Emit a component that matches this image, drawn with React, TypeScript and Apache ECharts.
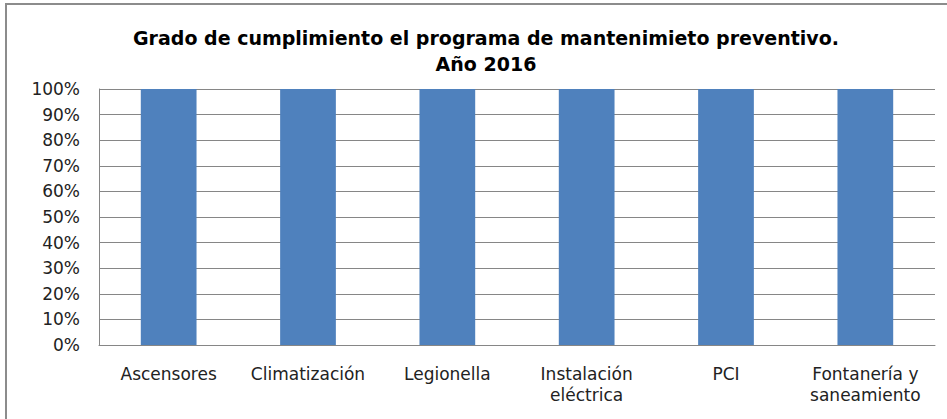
import React, { useEffect, useRef } from "react";
import * as echarts from "echarts";

const categories = [
  "Ascensores",
  "Climatización",
  "Legionella",
  "Instalación\neléctrica",
  "PCI",
  "Fontanería y\nsaneamiento",
];
const values = [1, 1, 1, 1, 1, 1];
const titleLines = [
  "Grado de cumplimiento el programa de mantenimieto preventivo.",
  "Año 2016",
];

const FONT = "DejaVu Sans";

export default function App() {
  const ref = useRef<HTMLDivElement>(null);
  useEffect(() => {
    const chart = echarts.init(ref.current!, null, { renderer: "svg" });
    chart.setOption({
      animation: false,
      backgroundColor: "#ffffff",
      textStyle: { fontFamily: FONT },
      title: {
        text: titleLines.join("\n"),
        left: 481,
        textAlign: "center",
        top: 20,
        textStyle: {
          fontFamily: FONT,
          fontWeight: "bold",
          fontSize: 19,
          lineHeight: 26,
          color: "#000",
        },
      },
      graphic: [
        {
          type: "rect",
          shape: { x: 6, y: 4, width: 960, height: 430 },
          style: { fill: "none", stroke: "#8c8c8c", lineWidth: 2 },
          silent: true,
        },
      ],
      grid: { left: 99, right: 12, top: 89, bottom: 74 },
      xAxis: {
        type: "category",
        data: categories,
        axisLine: { show: true, lineStyle: { color: "#868686", width: 1 } },
        axisTick: { show: false },
        axisLabel: {
          interval: 0,
          margin: 18,
          fontSize: 17,
          lineHeight: 21,
          color: "#222",
          fontFamily: FONT,
        },
      },
      yAxis: {
        type: "value",
        min: 0,
        max: 1,
        interval: 0.1,
        axisLine: { show: true, lineStyle: { color: "#868686", width: 1 } },
        axisTick: { show: false },
        splitLine: { lineStyle: { color: "#868686", width: 1 } },
        axisLabel: {
          margin: 19,
          fontSize: 17,
          color: "#222",
          fontFamily: FONT,
          formatter: (v: number) => `${Math.round(v * 100)}%`,
        },
      },
      series: [
        {
          type: "bar",
          data: values,
          barWidth: "40%",
          itemStyle: { color: "#4F81BD" },
        },
      ],
    });
    return () => chart.dispose();
  }, []);
  return (
    <div
      ref={ref}
      style={{ position: "fixed", left: 0, top: 0, width: 947, height: 419 }}
    />
  );
}
